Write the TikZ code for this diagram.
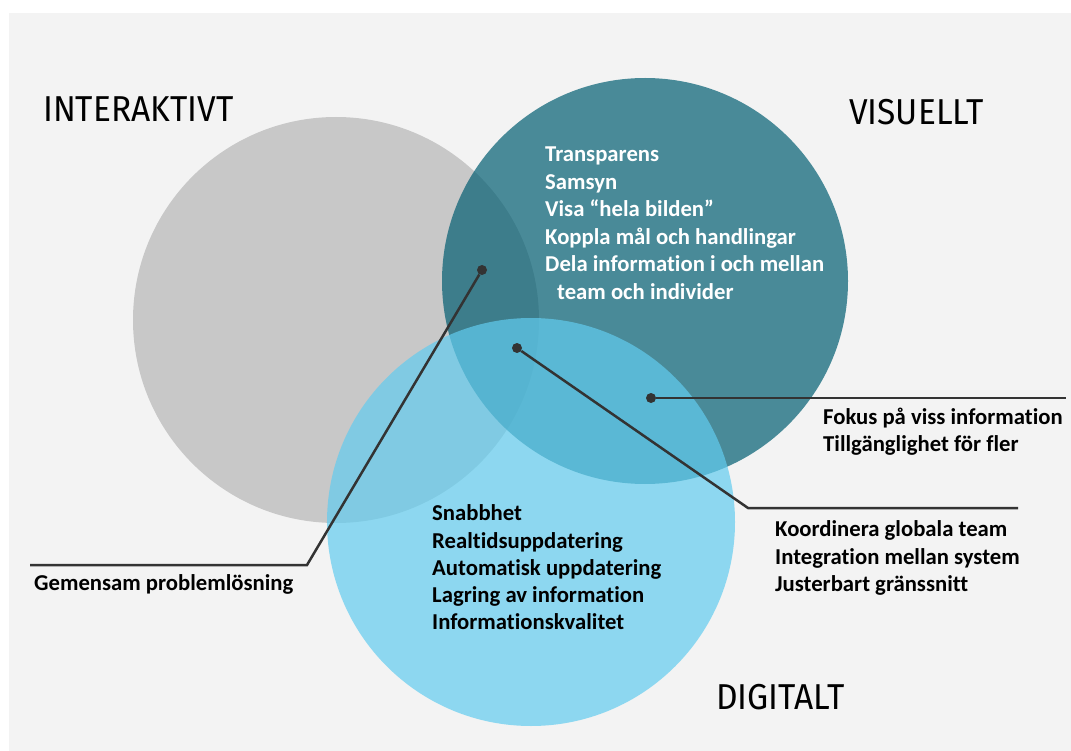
\documentclass[tikz,border=0pt]{standalone}
\usepackage{fontspec}
\setmainfont{Carlito}[Ligatures={TeX,NoCommon}]
\newfontfamily\titlefont{Fira Sans}[FakeStretch=0.93]

\definecolor{bggray}{HTML}{F3F3F3}
\definecolor{circgray}{HTML}{C8C8C8}
\definecolor{visteal}{RGB}{2,94,114}
\definecolor{digblue}{RGB}{98,204,239}
\definecolor{linegray}{HTML}{333333}

\begin{document}
\begin{tikzpicture}[
    x=1pt, y=-1pt,
    title/.style={font=\titlefont\fontsize{36}{40}\selectfont, anchor=base west, inner sep=0pt},
    item/.style={font=\bfseries\fontsize{22.7}{27}\selectfont, anchor=base west, inner sep=0pt},
    dot/.style={circle, fill=linegray, inner sep=0pt, minimum size=10pt},
    leaderline/.style={draw=linegray, line width=2.5pt}
]

% background
\fill[bggray] (9,13) rectangle (1071,751);
\useasboundingbox (0,0) rectangle (1071,751);

% the three circles
\fill[circgray] (336,320) circle[radius=203];
\fill[visteal, opacity=0.7] (645,281) circle[radius=203];
\fill[digblue, opacity=0.7] (531,522) circle[radius=204];

% headings
\node[title] (interaktivt) at (43,122) {INTERAKTIVT};
\node[title] (visuellt) at (849,125) {VISUELLT};
\node[title] (digitalt) at (716,709) {DIGITALT};

% inside the circles
\foreach \txt [count=\i] in {Transparens, Samsyn, Visa “hela bilden”, Koppla mål och handlingar, Dela information i och mellan}
    \node[item, text=white] (vis\i) at (545, {134.5+27.5*\i}) {\txt};
\node[item, text=white] (vis6) at (557,299.5) {team och individer};

\foreach \txt [count=\i] in {Snabbhet, Realtidsuppdatering, Automatisk uppdatering, Lagring av information, Informationskvalitet}
    \node[item] (dig\i) at (432, {493.4+27.3*\i}) {\txt};

% labels on the leader lines
\node[item] (fokus) at (823,424) {Fokus på viss information};
\node[item] (tillgang) at (823,451.7) {Tillgänglighet för fler};
\node[item] (koord) at (775,536.7) {Koordinera globala team};
\node[item] (integ) at (775,564.3) {Integration mellan system};
\node[item] (juster) at (775,591.7) {Justerbart gränssnitt};
\node[item] (gemensam) at (34,590.7) {Gemensam problemlösning};

% leader lines
\node[dot] (d1) at (482,270) {};
\node[dot] (d2) at (517,348) {};
\node[dot] (d3) at (651,398) {};
\coordinate (k1) at (307,565);
\coordinate (e1) at (30,565);
\coordinate (k2) at (748,508);
\coordinate (e2) at (1018,508);
\coordinate (e3) at (1066,398);

\draw[leaderline] (d1) -- (k1) -- (e1);
\draw[leaderline] (d2) -- (k2) -- (e2);
\draw[leaderline] (d3) -- (e3);

\end{tikzpicture}
\end{document}
